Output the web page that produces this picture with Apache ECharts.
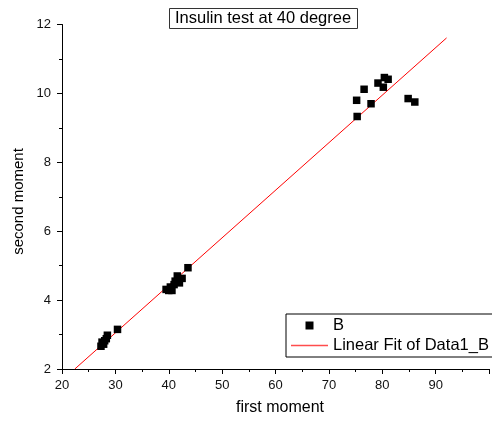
<!DOCTYPE html>
<html>
<head>
<meta charset="utf-8">
<script src="https://cdn.jsdelivr.net/npm/echarts@6/dist/echarts.min.js"></script>
<style>html,body{margin:0;padding:0;background:#fff}#c{width:492px;height:425px}</style>
</head>
<body>
<div id="c"></div>
<script>
const titleText = 'Insulin test at 40 degree';
const xName = 'first moment';
const yName = 'second moment';
const seriesNames = ['B', 'Linear Fit of Data1_B'];
const firstMoment = [27.3, 27.5, 27.8, 28.0, 28.3, 28.5, 30.4,
  39.5, 40.0, 40.3, 40.6, 41.0, 41.2, 41.6, 42.0, 42.5, 43.6,
  75.3, 75.2, 76.6, 77.9, 79.2, 80.4, 81.1, 80.2, 84.85, 86.1];
const secondMoment = [2.66, 2.78, 2.72, 2.82, 2.88, 2.98, 3.15,
  4.31, 4.28, 4.38, 4.28, 4.45, 4.55, 4.70, 4.50, 4.63, 4.94,
  9.33, 9.80, 10.12, 9.70, 10.30, 10.46, 10.41, 10.18, 9.85, 9.75];
const fitX = [22.4, 92.05];
const fitY = [2.0, 11.61];
const xTicks = [20, 30, 40, 50, 60, 70, 80, 90];
const yTicks = [2, 4, 6, 8, 10, 12];

const pts = firstMoment.map((x, i) => [x, secondMoment[i]]);
const fit = fitX.map((x, i) => [x, fitY[i]]);
const font = 'Liberation Sans';

const chart = echarts.init(document.getElementById('c'));
chart.setOption({
  animation: false,
  textStyle: {fontFamily: font},
  title: {
    text: titleText, left: 169, top: 8,
    borderColor: '#333', borderWidth: 1, padding: [2, 7, 2, 6],
    textStyle: {fontFamily: font, fontSize: 16.5, fontWeight: 'normal', color: '#000'}
  },
  legend: {
    orient: 'vertical', left: 286, top: 314,
    borderColor: '#000', borderWidth: 1, padding: [3, 10, 3, 5],
    itemWidth: 37, itemHeight: 8, itemGap: 3, symbolKeepAspect: true,
    textStyle: {fontFamily: font, fontSize: 16.5, color: '#000'},
    data: [
      {name: seriesNames[0], icon: 'path://M0,0L1,0L1,1L0,1Z', itemStyle: {color: '#000', opacity: 1}},
      {name: seriesNames[1], icon: 'path://M0,0L37,0L37,1.4L0,1.4Z',
        itemStyle: {color: '#ff4d4d', borderColor: '#ff4d4d', borderWidth: 0, opacity: 1}}
    ]
  },
  graphic: [
    {type: 'text', x: 280, y: 408,
      style: {text: xName, align: 'center', verticalAlign: 'middle',
      fontFamily: 'Arial', fontSize: 16, fontWeight: 'normal', fill: '#000'}},
    {type: 'text', rotation: Math.PI / 2, x: 19, y: 201.5,
      style: {text: yName, align: 'center', verticalAlign: 'middle',
      fontFamily: 'Arial', fontSize: 15, fontWeight: 'normal', fill: '#000'}}
  ],
  grid: {left: 62, top: 24.5, bottom: 56, right: -37.1},
  xAxis: {
    type: 'value', min: xTicks[0], max: 100, interval: 10,
    axisLine: {show: true, lineStyle: {color: '#000', width: 1}},
    axisTick: {show: true, inside: false, length: 5, lineStyle: {color: '#000'}},
    minorTick: {show: true, splitNumber: 2, length: 3, lineStyle: {color: '#000'}},
    axisLabel: {margin: 10, fontFamily: font, fontSize: 13, color: '#111',
      formatter: v => xTicks.includes(v) ? String(v) : ''},
    splitLine: {show: false}
  },
  yAxis: {
    type: 'value', min: yTicks[0], max: yTicks[yTicks.length - 1], interval: 2,
    axisLine: {show: true, lineStyle: {color: '#000', width: 1}},
    axisTick: {show: true, inside: false, length: 5, lineStyle: {color: '#000'}},
    minorTick: {show: true, splitNumber: 2, length: 3, lineStyle: {color: '#000'}},
    axisLabel: {margin: 11, fontFamily: font, fontSize: 13, color: '#111'},
    splitLine: {show: false}
  },
  series: [
    {name: seriesNames[0], type: 'scatter', data: pts, symbol: 'rect', symbolSize: 7.5,
      itemStyle: {color: '#000', opacity: 1}, z: 3},
    {name: seriesNames[1], type: 'line', data: fit, symbol: 'none', clip: true,
      lineStyle: {color: '#ff0000', width: 1}, itemStyle: {color: '#ff0000'}, z: 2}
  ]
});
</script>
</body>
</html>
